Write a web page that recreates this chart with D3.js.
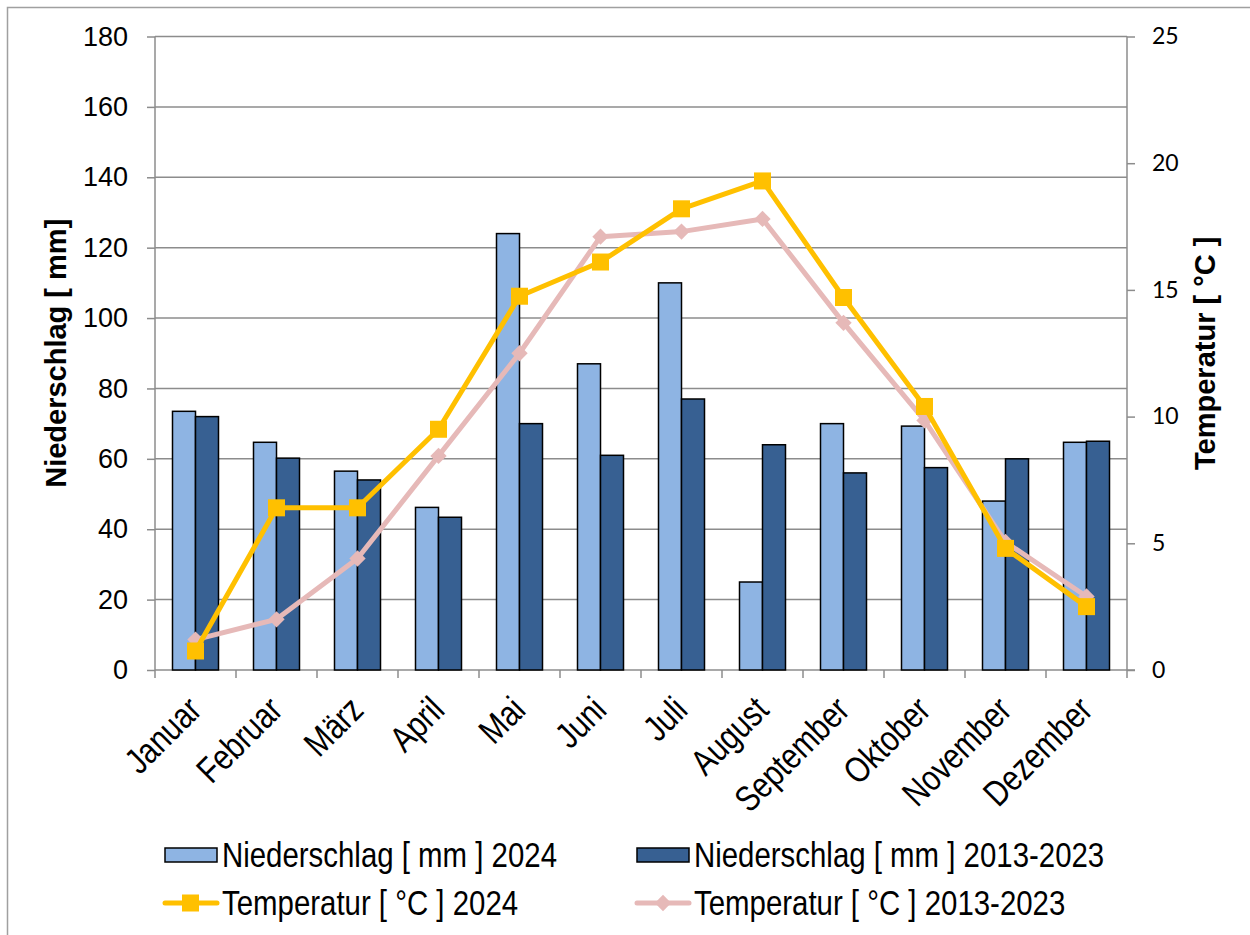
<!DOCTYPE html>
<html>
<head>
<meta charset="utf-8">
<script src="https://cdn.jsdelivr.net/npm/d3@7"></script>
<style>
  body { margin: 0; background: #fff; }
  text { font-family: "Liberation Sans", Arial, sans-serif; fill: #000; }
</style>
</head>
<body>
<svg id="chart" width="1250" height="935"></svg>
<script>
// data
var months = ["Januar", "Februar", "März", "April", "Mai", "Juni", "Juli", "August", "September", "Oktober", "November", "Dezember"];
var rain2024 = [73.5, 64.7, 56.5, 46.2, 124, 87, 110, 25, 70, 69.3, 48, 64.7];
var rainAvg = [72, 60.2, 54, 43.4, 70, 61, 77, 64, 56, 57.5, 60, 65];
var temp2024 = [0.75, 6.4, 6.4, 9.5, 14.75, 16.1, 18.2, 19.3, 14.7, 10.4, 4.8, 2.5];
var tempAvg = [1.2, 2.0, 4.4, 8.45, 12.5, 17.1, 17.3, 17.8, 13.7, 9.85, 5.05, 2.9];
var rainTicks = [0, 20, 40, 60, 80, 100, 120, 140, 160, 180];
var tempTicks = [0, 5, 10, 15, 20, 25];

var colLight = "#8EB4E3", colDark = "#376092", colYellow = "#FFC000", colPink = "#E6B9B8";

var svg = d3.select("#chart");

// smalle letters: Arial Narrow nabootsen door de tekst horizontaal te comprimeren
function narrow(sel, factor) {
  sel.each(function() {
    var len = this.getComputedTextLength();
    d3.select(this)
        .attr("textLength", len * factor)
        .attr("lengthAdjust", "spacingAndGlyphs");
  });
}

// rand om de grafiek
svg.append("rect")
    .attr("x", 7.5).attr("y", 7.5)
    .attr("width", 1260).attr("height", 940)
    .attr("fill", "none").attr("stroke", "#a0a0a0").attr("stroke-width", 1.5);

var plot = {left: 155, right: 1127, top: 36.5, bottom: 670};

var x = d3.scaleBand().domain(months).range([plot.left, plot.right]).paddingInner(0).paddingOuter(0);
var xSub = d3.scaleBand().domain([0, 1]).range([0, 46]);
var yRain = d3.scaleLinear().domain([0, 180]).range([plot.bottom, plot.top]);
var yTemp = d3.scaleLinear().domain([0, 25]).range([plot.bottom, plot.top]);

// gridlijnen
svg.append("g").selectAll("line")
    .data(rainTicks.filter(function(d) { return d > 0; }))
    .enter().append("line")
    .attr("x1", plot.left).attr("x2", plot.right)
    .attr("y1", function(d) { return yRain(d); })
    .attr("y2", function(d) { return yRain(d); })
    .attr("stroke", "#8c8c8c").attr("stroke-width", 1.5);

// linker as
var leftAxis = svg.append("g")
    .attr("transform", "translate(" + plot.left + ",0)")
    .call(d3.axisLeft(yRain).tickValues(rainTicks).tickSize(8).tickPadding(19));
leftAxis.selectAll("text").style("font-size", "27px").style("font-family", "Liberation Sans, Arial");

// rechter as
var rightAxis = svg.append("g")
    .attr("transform", "translate(" + plot.right + ",0)")
    .call(d3.axisRight(yTemp).tickValues(tempTicks).tickSize(8).tickPadding(17));
rightAxis.selectAll("text").style("font-size", "23px").style("font-family", "Lato, Open Sans, sans-serif");

// onderste as
var bottomAxis = svg.append("g")
    .attr("transform", "translate(0," + plot.bottom + ")");
bottomAxis.append("line")
    .attr("x1", plot.left).attr("x2", plot.right + 8)
    .attr("stroke", "#8c8c8c").attr("stroke-width", 1.5);
bottomAxis.selectAll(".bt")
    .data(d3.range(months.length + 1))
    .enter().append("line")
    .attr("x1", function(i) { return plot.left + i * x.bandwidth(); })
    .attr("x2", function(i) { return plot.left + i * x.bandwidth(); })
    .attr("y1", 0).attr("y2", 8)
    .attr("stroke", "#8c8c8c").attr("stroke-width", 1.5);
bottomAxis.selectAll(".ml")
    .data(months)
    .enter().append("text")
    .attr("transform", function(d) {
      return "translate(" + (x(d) + x.bandwidth() / 2 + 8) + ",42) rotate(-45)";
    })
    .attr("text-anchor", "end")
    .style("font-size", "36px")
    .text(function(d) { return d; })
    .call(narrow, 0.82);

[leftAxis, rightAxis].forEach(function(a) {
  a.select(".domain").attr("stroke", "#8c8c8c").attr("stroke-width", 1.5);
  a.selectAll(".tick line").attr("stroke", "#8c8c8c").attr("stroke-width", 1.5);
});
leftAxis.select(".domain").attr("d", "M0," + plot.bottom + "V" + plot.top);
rightAxis.select(".domain").attr("d", "M0," + plot.bottom + "V" + plot.top);

// staven
var bars = [rain2024, rainAvg];
var barColors = [colLight, colDark];
bars.forEach(function(series, s) {
  svg.append("g").selectAll("rect")
      .data(series)
      .enter().append("rect")
      .attr("x", function(d, i) { return x(months[i]) + x.bandwidth() / 2 - 23 + xSub(s); })
      .attr("y", function(d) { return yRain(d); })
      .attr("width", xSub.bandwidth())
      .attr("height", function(d) { return plot.bottom - yRain(d); })
      .attr("fill", barColors[s])
      .attr("stroke", "#000").attr("stroke-width", 1.5);
});

// lijnen
var line = d3.line()
    .x(function(d, i) { return x(months[i]) + x.bandwidth() / 2; })
    .y(function(d) { return yTemp(d); });

svg.append("path").datum(tempAvg)
    .attr("d", line).attr("fill", "none")
    .attr("stroke", colPink).attr("stroke-width", 5).attr("stroke-linejoin", "round");
svg.append("g").selectAll("path")
    .data(tempAvg).enter().append("path")
    .attr("d", d3.symbol().type(d3.symbolDiamond2).size(170))
    .attr("transform", function(d, i) { return "translate(" + (x(months[i]) + x.bandwidth() / 2) + "," + yTemp(d) + ")"; })
    .attr("fill", colPink);

svg.append("path").datum(temp2024)
    .attr("d", line).attr("fill", "none")
    .attr("stroke", colYellow).attr("stroke-width", 5).attr("stroke-linejoin", "round");
svg.append("g").selectAll("rect")
    .data(temp2024).enter().append("rect")
    .attr("x", function(d, i) { return x(months[i]) + x.bandwidth() / 2 - 8.5; })
    .attr("y", function(d) { return yTemp(d) - 8.5; })
    .attr("width", 17).attr("height", 17)
    .attr("fill", colYellow);

// as titels
svg.append("text")
    .attr("transform", "translate(66," + ((plot.top + plot.bottom) / 2) + ") rotate(-90)")
    .attr("text-anchor", "middle")
    .style("font-size", "29px").style("font-weight", "bold")
    .text("Niederschlag [ mm]");
svg.append("text")
    .attr("transform", "translate(1215," + ((plot.top + plot.bottom) / 2) + ") rotate(-90)")
    .attr("text-anchor", "middle")
    .style("font-size", "29px").style("font-weight", "bold")
    .text("Temperatur [ °C ]");

// legenda
var legendItems = [
  {label: "Niederschlag [ mm ] 2024", type: "bar", color: colLight, x: 165, y: 855},
  {label: "Niederschlag [ mm ] 2013-2023", type: "bar", color: colDark, x: 637, y: 855},
  {label: "Temperatur [ °C ] 2024", type: "square", color: colYellow, x: 165, y: 903},
  {label: "Temperatur [ °C ] 2013-2023", type: "diamond", color: colPink, x: 637, y: 903}
];
var legend = svg.append("g").selectAll("g")
    .data(legendItems).enter().append("g")
    .attr("transform", function(d) { return "translate(" + d.x + "," + d.y + ")"; });
legend.filter(function(d) { return d.type === "bar"; })
    .append("rect")
    .attr("x", 0).attr("y", -7).attr("width", 52).attr("height", 14)
    .attr("fill", function(d) { return d.color; })
    .attr("stroke", "#000").attr("stroke-width", 1.5);
legend.filter(function(d) { return d.type !== "bar"; })
    .append("line")
    .attr("x1", 0).attr("x2", 52)
    .attr("stroke", function(d) { return d.color; })
    .attr("stroke-width", 5).attr("stroke-linecap", "round");
legend.filter(function(d) { return d.type === "square"; })
    .append("rect")
    .attr("x", 17).attr("y", -8.5).attr("width", 17).attr("height", 17)
    .attr("fill", function(d) { return d.color; });
legend.filter(function(d) { return d.type === "diamond"; })
    .append("path")
    .attr("transform", "translate(26,0)")
    .attr("d", d3.symbol().type(d3.symbolDiamond2).size(170))
    .attr("fill", function(d) { return d.color; });
legend.append("text")
    .attr("x", 57).attr("dy", "0.35em")
    .style("font-size", "35px")
    .text(function(d) { return d.label; })
    .call(narrow, 0.84);
</script>
</body>
</html>
